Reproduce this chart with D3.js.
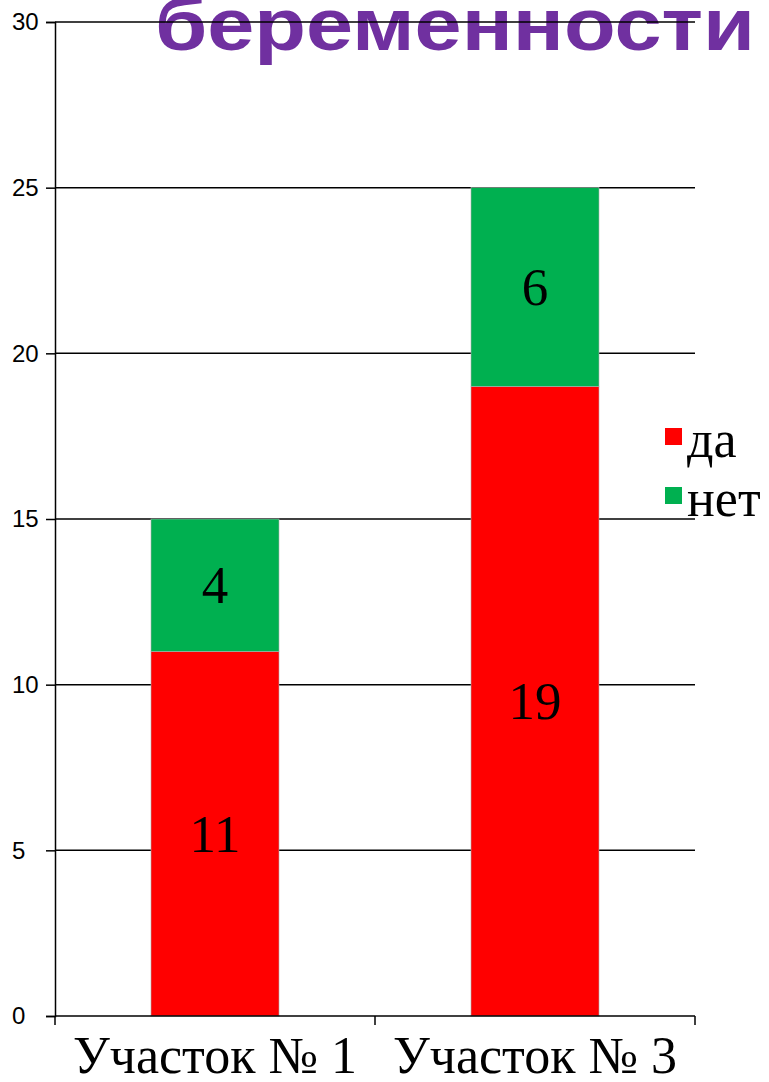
<!DOCTYPE html>
<html>
<head>
<meta charset="utf-8">
<script src="https://cdn.jsdelivr.net/npm/d3@7"></script>
<style>
  html, body { margin: 0; padding: 0; background: #fff; }
  svg { display: block; }
</style>
</head>
<body>
<svg id="chart" width="769" height="1082"></svg>
<script>
// Plot data
const categories = ["Участок № 1", "Участок № 3"];
const seriesNames = ["да", "нет"];
const yesValues = [11, 19];
const noValues = [4, 6];
const yTicks = [0, 5, 10, 15, 20, 25, 30];
const titleText = "беременности";

const colors = { "да": "#FF0000", "нет": "#00B050" };

const svg = d3.select("#chart");
const margin = { left: 55, right: 74, top: 22, bottom: 66 };
const W = 769, H = 1082;

const x = d3.scaleBand()
  .domain(categories)
  .range([margin.left, W - margin.right])
  .paddingInner(0)
  .paddingOuter(0);

const y = d3.scaleLinear()
  .domain([0, 30])
  .range([H - margin.bottom, margin.top]);

// Slide title, partly above the frame (drawn first so the grid crosses it)
svg.append("text")
  .attr("x", 155)
  .attr("y", 50)
  .attr("font-family", "'Liberation Sans', Arial, sans-serif")
  .attr("font-weight", "bold")
  .attr("font-size", 74)
  .attr("textLength", 600)
  .attr("lengthAdjust", "spacingAndGlyphs")
  .attr("fill", "#7030A0")
  .text(titleText);

// Stack the two series
const rows = categories.map((c, i) => ({ cat: c, "да": yesValues[i], "нет": noValues[i] }));
const stacked = d3.stack().keys(seriesNames)(rows);

// Horizontal grid lines
svg.append("g")
  .selectAll("line")
  .data(yTicks.filter(t => t > 0))
  .join("line")
  .attr("x1", margin.left)
  .attr("x2", W - margin.right)
  .attr("y1", d => y(d))
  .attr("y2", d => y(d))
  .attr("stroke", "#000")
  .attr("stroke-width", 1.5);

// Bars
const barW = x.bandwidth() * 0.4;
const barG = svg.append("g");
stacked.forEach(s => {
  barG.selectAll(null)
    .data(s)
    .join("rect")
    .attr("x", d => x(d.data.cat) + (x.bandwidth() - barW) / 2)
    .attr("width", barW)
    .attr("y", d => y(d[1]))
    .attr("height", d => y(d[0]) - y(d[1]))
    .attr("fill", colors[s.key])
    .attr("stroke", "#b0b0b0")
    .attr("stroke-width", 0.6);
});

// Value labels in the middle of each segment
stacked.forEach(s => {
  barG.selectAll(null)
    .data(s)
    .join("text")
    .attr("x", d => x(d.data.cat) + x.bandwidth() / 2)
    .attr("y", d => (y(d[0]) + y(d[1])) / 2)
    .attr("dy", "0.34em")
    .attr("text-anchor", "middle")
    .attr("font-family", "'Liberation Serif', 'Times New Roman', serif")
    .attr("font-size", 53)
    .attr("fill", "#000")
    .text(d => d[1] - d[0]);
});

// Y axis (labels left-aligned near the page edge)
const yAxis = d3.axisLeft(y).tickValues(yTicks).tickSize(9).tickFormat(d3.format("d"));
const yg = svg.append("g")
  .attr("transform", `translate(${margin.left},0)`)
  .call(yAxis);
yg.select(".domain").attr("stroke", "#000").attr("stroke-width", 1.5);
yg.selectAll(".tick line").attr("stroke", "#000").attr("stroke-width", 1.5);
yg.selectAll(".tick text")
  .attr("x", 12 - margin.left)
  .attr("text-anchor", "start")
  .attr("font-family", "'Liberation Sans', Arial, sans-serif")
  .attr("font-size", 24)
  .attr("fill", "#000");

// X axis with ticks at category boundaries
const xg = svg.append("g").attr("transform", `translate(0,${y(0)})`);
xg.append("line")
  .attr("x1", margin.left).attr("x2", W - margin.right)
  .attr("y1", 0).attr("y2", 0)
  .attr("stroke", "#000").attr("stroke-width", 1.5);
const bounds = categories.map(c => x(c)).concat([x(categories[categories.length - 1]) + x.bandwidth()]);
xg.selectAll("line.b")
  .data(bounds)
  .join("line")
  .attr("class", "b")
  .attr("x1", d => d).attr("x2", d => d)
  .attr("y1", 0).attr("y2", 9)
  .attr("stroke", "#000").attr("stroke-width", 1.5);
xg.selectAll("text")
  .data(categories)
  .join("text")
  .attr("x", d => x(d) + x.bandwidth() / 2)
  .attr("y", 57)
  .attr("text-anchor", "middle")
  .attr("font-family", "'Liberation Serif', 'Times New Roman', serif")
  .attr("font-size", 52)
  .attr("fill", "#000")
  .text(d => d);

// Legend
const leg = svg.append("g").attr("transform", "translate(665,428)");
seriesNames.forEach((n, i) => {
  const g = leg.append("g").attr("transform", `translate(0,${i * 59})`);
  g.append("rect").attr("width", 17).attr("height", 17).attr("fill", colors[n]);
  g.append("text")
    .attr("x", 22).attr("y", 29)
    .attr("font-family", "'Liberation Serif', 'Times New Roman', serif")
    .attr("font-size", 52)
    .attr("fill", "#000")
    .text(n);
});
</script>
</body>
</html>
